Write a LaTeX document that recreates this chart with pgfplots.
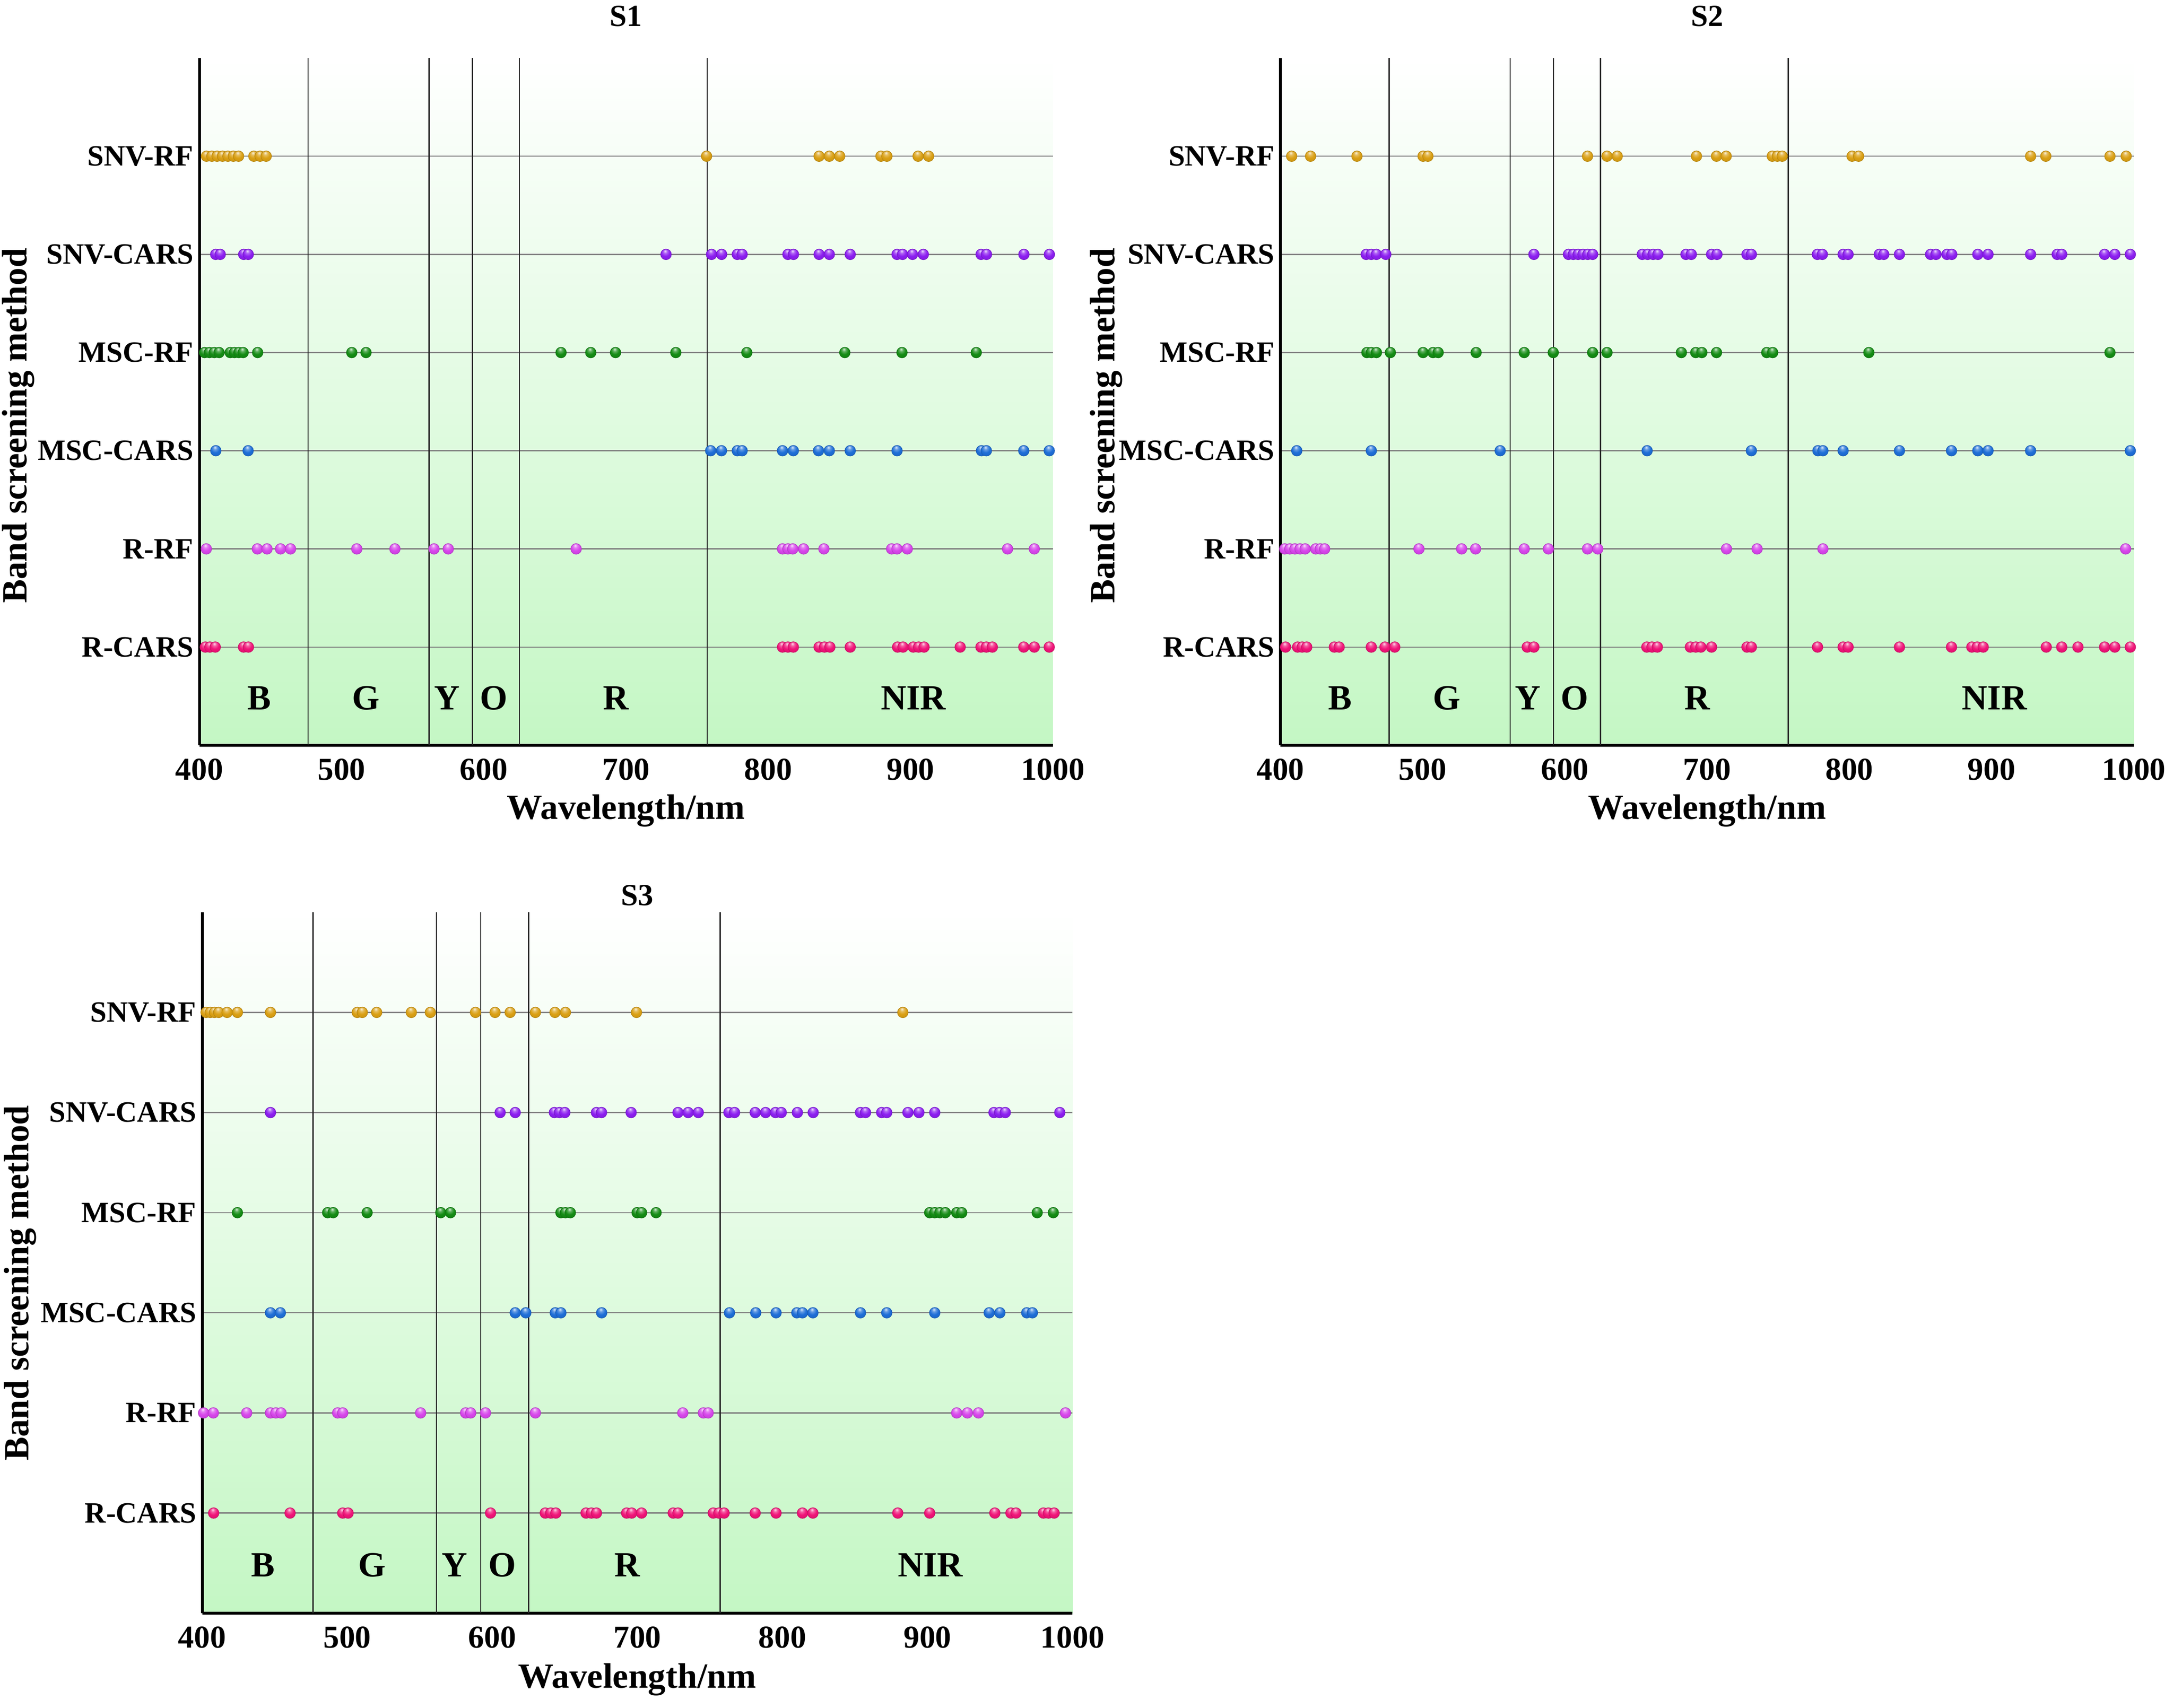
\documentclass[border=0pt]{standalone}
\usepackage{pgfplots}
\pgfplotsset{compat=1.18}
\usepackage{fontspec}
\setmainfont{Liberation Serif}
\definecolor{csnvrf}{RGB}{218,160,20}
\definecolor{csnvcars}{RGB}{140,30,240}
\definecolor{cmscrf}{RGB}{20,140,20}
\definecolor{cmsccars}{RGB}{30,110,215}
\definecolor{crrf}{RGB}{215,70,235}
\definecolor{crcars}{RGB}{240,20,120}
\definecolor{bgbot}{RGB}{196,247,196}
\makeatletter
\pgfdeclareradialshading[tikz@ball]{ball}{\pgfqpoint{-4bp}{16bp}}{%
  color(0bp)=(tikz@ball!15!white); color(9bp)=(tikz@ball!70!white);
  color(20bp)=(tikz@ball); color(40bp)=(tikz@ball!90!black); color(60bp)=(tikz@ball!70!black)}
\makeatother
\pgfplotsset{
  snvrf/.style={color=csnvrf, mark options={ball color=csnvrf, draw=csnvrf!85!black, line width=0.25pt}},
  snvcars/.style={color=csnvcars, mark options={ball color=csnvcars, draw=csnvcars!85!black, line width=0.25pt}},
  mscrf/.style={color=cmscrf, mark options={ball color=cmscrf, draw=cmscrf!85!black, line width=0.25pt}},
  msccars/.style={color=cmsccars, mark options={ball color=cmsccars, draw=cmsccars!85!black, line width=0.25pt}},
  rrf/.style={color=crrf, mark options={ball color=crrf, draw=crrf!85!black, line width=0.25pt}},
  rcars/.style={color=crcars, mark options={ball color=crcars, draw=crcars!85!black, line width=0.25pt}},
  bandaxis/.style={
    scale only axis,
    xmin=400, xmax=1000, ymin=0, ymax=7,
    clip=false,
    axis x line*=bottom, axis y line*=left,
    axis line style={black, line width=1.2pt},
    axis background/.style={top color=white, bottom color=bgbot},
    xtick={400,500,...,1000},
    ytick={1,2,3,4,5,6},
    yticklabels={R-CARS,R-RF,MSC-CARS,MSC-RF,SNV-CARS,SNV-RF},
    major tick length=0pt,
    tick style={draw=none},
    /pgf/number format/assume math mode=true,
    /pgf/number format/1000 sep={},
    xticklabel style={font=\bfseries\fontsize{13.5}{15}\selectfont, inner sep=0pt, yshift=-5.5pt},
    yticklabel style={font=\bfseries\fontsize{12.5}{14}\selectfont, inner sep=0pt, xshift=-2.3pt},
    ymajorgrids,
    major grid style={gray, line width=0.5pt},
    extra x ticks={476.5,561.5,592,625,757},
    extra x tick labels={},
    extra x tick style={grid=major, major grid style={black!85, line width=0.5pt}},
    xlabel={Wavelength/nm},
    xlabel style={font=\bfseries\fontsize{15}{17}\selectfont, at={(axis description cs:0.5,-0.095)}, anchor=center},
    ylabel={Band screening method},
    ylabel style={font=\bfseries\fontsize{15}{17}\selectfont, anchor=center},
    every axis plot/.append style={only marks, mark=ball, mark size=2.25pt},
  },
}
\newcommand{\regions}{%
  \node[font=\bfseries\fontsize{15}{17}\selectfont] at (axis cs:442,0.48) {B};
  \node[font=\bfseries\fontsize{15}{17}\selectfont] at (axis cs:517,0.48) {G};
  \node[font=\bfseries\fontsize{15}{17}\selectfont] at (axis cs:574,0.48) {Y};
  \node[font=\bfseries\fontsize{15}{17}\selectfont] at (axis cs:607,0.48) {O};
  \node[font=\bfseries\fontsize{15}{17}\selectfont] at (axis cs:693,0.48) {R};
  \node[font=\bfseries\fontsize{15}{17}\selectfont] at (axis cs:902,0.48) {NIR};
}
\begin{document}
\begin{tikzpicture}
\useasboundingbox (0,0) rectangle (921.2pt,724pt);
% ---------------- S1 ----------------
\begin{axis}[bandaxis, at={(84.5pt,408pt)}, anchor=south west,
  width=361.8pt, height=291.4pt,
  ylabel style={at={(axis description cs:-0.212,0.465)}}]
\addplot[snvrf] coordinates {
(405.0,6)(408.8,6)(412.5,6)(416.3,6)(420.1,6)(423.9,6)(427.6,6)(438.3,6)(442.7,6)(447.0,6)
(756.6,6)(835.7,6)(842.9,6)(850.2,6)(879.2,6)(883.4,6)(905.3,6)(912.7,6)};
\addplot[snvcars] coordinates {
(411.5,5)(414.7,5)(431.2,5)(434.4,5)(728.1,5)(760.1,5)(767.2,5)(778.2,5)(781.6,5)(813.8,5)
(817.7,5)(835.7,5)(842.9,5)(857.6,5)(890.5,5)(894.4,5)(901.4,5)(909.0,5)(949.6,5)(953.4,5)
(979.7,5)(997.6,5)};
\addplot[mscrf] coordinates {
(403.7,4)(407.1,4)(410.5,4)(413.9,4)(421.7,4)(424.7,4)(427.8,4)(430.8,4)(441.0,4)(507.2,4)
(517.2,4)(654.3,4)(675.2,4)(692.6,4)(735.0,4)(784.9,4)(853.8,4)(894.0,4)(946.2,4)};
\addplot[msccars] coordinates {
(411.6,3)(434.3,3)(759.5,3)(767.1,3)(778.2,3)(781.6,3)(810.0,3)(817.6,3)(835.3,3)(842.9,3)
(857.6,3)(890.5,3)(949.9,3)(953.3,3)(979.6,3)(997.5,3)};
\addplot[rrf] coordinates {
(404.9,2)(440.8,2)(447.6,2)(457.1,2)(464.1,2)(510.7,2)(537.5,2)(565.0,2)(575.0,2)(664.9,2)
(810.0,2)(813.8,2)(817.2,2)(824.8,2)(839.1,2)(886.7,2)(890.5,2)(897.7,2)(968.2,2)(987.0,2)};
\addplot[rcars] coordinates {
(404.2,1)(407.4,1)(411.2,1)(431.1,1)(434.5,1)(810.0,1)(813.8,1)(817.6,1)(835.7,1)(839.5,1)
(843.3,1)(857.6,1)(890.9,1)(894.7,1)(901.9,1)(905.7,1)(909.5,1)(934.9,1)(949.5,1)(953.3,1)
(957.5,1)(979.6,1)(987.0,1)(997.5,1)};
\regions
\node[font=\bfseries\fontsize{13}{15}\selectfont] at (rel axis cs:0.5,1.061) {S1};
\end{axis}
% ---------------- S2 ----------------
\begin{axis}[bandaxis, at={(542.8pt,408pt)}, anchor=south west,
  width=361.8pt, height=291.4pt,
  ylabel style={at={(axis description cs:-0.204,0.465)}}]
\addplot[snvrf] coordinates {
(407.9,6)(421.2,6)(453.8,6)(500.3,6)(503.7,6)(615.9,6)(629.6,6)(636.8,6)(692.5,6)(706.6,6)
(713.4,6)(745.8,6)(749.4,6)(752.8,6)(801.9,6)(806.5,6)(927.4,6)(938.1,6)(983.2,6)(994.6,6)};
\addplot[snvcars] coordinates {
(460.3,5)(463.9,5)(467.5,5)(474.1,5)(578.2,5)(602.5,5)(605.9,5)(609.3,5)(612.7,5)(616.1,5)
(619.5,5)(654.4,5)(658.2,5)(662.0,5)(665.4,5)(685.1,5)(688.9,5)(703.1,5)(706.9,5)(728.0,5)
(731.1,5)(777.5,5)(781.0,5)(795.6,5)(799.1,5)(821.0,5)(824.2,5)(835.2,5)(857.1,5)(860.9,5)
(868.6,5)(872.0,5)(890.3,5)(897.5,5)(927.4,5)(946.1,5)(949.3,5)(979.4,5)(986.6,5)(997.5,5)};
\addplot[mscrf] coordinates {
(460.8,4)(463.9,4)(467.5,4)(477.3,4)(500.3,4)(507.3,4)(510.9,4)(537.6,4)(571.4,4)(591.8,4)
(619.5,4)(629.6,4)(681.9,4)(692.0,4)(696.3,4)(706.6,4)(741.9,4)(746.1,4)(813.7,4)(983.2,4)};
\addplot[msccars] coordinates {
(411.5,3)(463.9,3)(554.5,3)(657.8,3)(731.1,3)(777.9,3)(781.4,3)(795.6,3)(835.2,3)(871.8,3)
(890.3,3)(897.5,3)(927.4,3)(997.5,3)};
\addplot[rrf] coordinates {
(403.0,2)(406.6,2)(410.2,2)(413.8,2)(417.4,2)(424.8,2)(428.0,2)(431.1,2)(497.4,2)(527.4,2)
(537.2,2)(571.4,2)(588.4,2)(615.9,2)(623.1,2)(713.6,2)(735.1,2)(781.4,2)(994.2,2)};
\addplot[rcars] coordinates {
(403.6,1)(412.1,1)(415.3,1)(418.5,1)(437.9,1)(441.3,1)(463.9,1)(473.5,1)(480.4,1)(573.5,1)
(578.2,1)(657.6,1)(661.2,1)(665.0,1)(688.2,1)(692.0,1)(695.6,1)(703.1,1)(728.0,1)(731.1,1)
(777.6,1)(795.6,1)(799.1,1)(835.2,1)(871.8,1)(886.1,1)(889.9,1)(894.1,1)(938.4,1)(949.3,1)
(960.7,1)(979.4,1)(986.6,1)(997.5,1)};
\regions
\node[font=\bfseries\fontsize{13}{15}\selectfont] at (rel axis cs:0.5,1.061) {S2};
\end{axis}
% ---------------- S3 ----------------
\begin{axis}[bandaxis, at={(85.7pt,40pt)}, anchor=south west,
  width=369pt, height=297.2pt,
  ylabel style={at={(axis description cs:-0.209,0.471)}}]
\addplot[snvrf] coordinates {
(402.7,6)(405.6,6)(408.5,6)(411.4,6)(417.2,6)(424.3,6)(447.1,6)(506.9,6)(510.4,6)(520.3,6)
(544.2,6)(557.3,6)(588.4,6)(601.9,6)(612.3,6)(629.7,6)(643.2,6)(650.4,6)(699.4,6)(883.0,6)};
\addplot[snvcars] coordinates {
(447.1,5)(605.4,5)(615.8,5)(642.8,5)(646.3,5)(650.0,5)(671.8,5)(675.3,5)(695.7,5)(728.0,5)
(735.0,5)(742.0,5)(763.1,5)(767.0,5)(781.2,5)(788.4,5)(795.2,5)(799.2,5)(810.3,5)(821.2,5)
(853.8,5)(857.3,5)(868.4,5)(871.9,5)(886.5,5)(894.1,5)(905.0,5)(945.8,5)(949.7,5)(953.6,5)
(991.2,5)};
\addplot[mscrf] coordinates {
(424.3,4)(486.5,4)(490.3,4)(513.7,4)(564.5,4)(571.2,4)(647.3,4)(650.4,4)(653.8,4)(699.8,4)
(702.9,4)(712.9,4)(901.5,4)(905.0,4)(908.5,4)(912.3,4)(920.1,4)(923.6,4)(975.6,4)(986.7,4)};
\addplot[msccars] coordinates {
(447.1,3)(453.9,3)(615.8,3)(623.1,3)(643.4,3)(647.3,3)(675.4,3)(763.5,3)(781.6,3)(795.6,3)
(809.9,3)(813.8,3)(821.0,3)(853.8,3)(871.9,3)(905.0,3)(942.5,3)(949.9,3)(968.4,3)(972.3,3)};
\addplot[rrf] coordinates {
(401.0,2)(407.7,2)(430.7,2)(447.1,2)(450.8,2)(454.4,2)(493.4,2)(496.9,2)(550.6,2)(581.6,2)
(585.1,2)(595.3,2)(629.7,2)(731.3,2)(745.5,2)(748.8,2)(920.1,2)(927.5,2)(935.1,2)(995.1,2)};
\addplot[rcars] coordinates {
(407.9,1)(460.6,1)(496.9,1)(500.6,1)(598.8,1)(636.5,1)(640.3,1)(643.8,1)(664.6,1)(668.3,1)
(671.8,1)(692.6,1)(696.1,1)(702.9,1)(724.7,1)(728.0,1)(752.3,1)(756.2,1)(759.8,1)(781.2,1)
(795.6,1)(813.8,1)(821.0,1)(879.5,1)(901.5,1)(946.4,1)(957.5,1)(961.0,1)(979.9,1)(983.4,1)
(987.3,1)};
\regions
\node[font=\bfseries\fontsize{13}{15}\selectfont] at (rel axis cs:0.5,1.024) {S3};
\end{axis}
\end{tikzpicture}
\end{document}
